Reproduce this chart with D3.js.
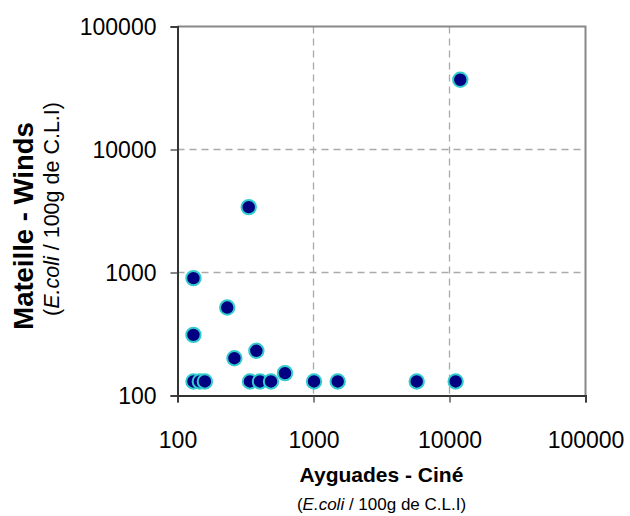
<!DOCTYPE html>
<html>
<head>
<meta charset="utf-8">
<script src="https://cdn.jsdelivr.net/npm/d3@7"></script>
<style>
  body { margin: 0; background: #fff; }
  text { font-family: "Liberation Sans", Arial, sans-serif; fill: #000; }
</style>
</head>
<body>
<svg id="chart"></svg>
<script>
// Data (E.coli / 100g)
const ayguades = [131, 232, 131, 262, 380, 131, 146, 159, 341, 404, 487, 617, 1009, 1507, 5740, 11100, 12000, 334];
const mateille = [900, 519, 311, 201, 231, 130, 130, 130, 130, 130, 130, 152, 130, 130, 130, 130, 36900, 3400];
const tickValues = [100, 1000, 10000, 100000];

const W = 630, H = 516;
const margin = { top: 26.5, right: 44.5, bottom: 120.5, left: 177.5 };
const width = W - margin.left - margin.right;
const height = H - margin.top - margin.bottom;

const svg = d3.select("#chart")
    .attr("width", W)
    .attr("height", H);

const g = svg.append("g")
    .attr("transform", `translate(${margin.left},${margin.top})`);

const x = d3.scaleLog().domain([100, 100000]).range([0, width]);
const y = d3.scaleLog().domain([100, 100000]).range([height, 0]);

// dashed grid at inner decades
const inner = tickValues.slice(1, -1);
g.selectAll(".gx").data(inner).enter().append("line")
    .attr("x1", d => x(d)).attr("x2", d => x(d))
    .attr("y1", 0).attr("y2", height)
    .attr("stroke", "#aaa").attr("stroke-width", 1.3)
    .attr("stroke-dasharray", "7,5");
g.selectAll(".gy").data(inner).enter().append("line")
    .attr("y1", d => y(d)).attr("y2", d => y(d))
    .attr("x1", 0).attr("x2", width)
    .attr("stroke", "#aaa").attr("stroke-width", 1.3)
    .attr("stroke-dasharray", "7,5");

// top / right border
g.append("path")
    .attr("d", `M0,0H${width}V${height}`)
    .attr("fill", "none")
    .attr("stroke", "#888")
    .attr("stroke-width", 2);

// axes
const xAxis = g.append("g")
    .attr("transform", `translate(0,${height})`)
    .call(d3.axisBottom(x).tickValues(tickValues).tickFormat(d3.format("d")).tickSize(7).tickPadding(29));
const yAxis = g.append("g")
    .call(d3.axisLeft(y).tickValues(tickValues).tickFormat(d3.format("d")).tickSize(7).tickPadding(14));

[xAxis, yAxis].forEach(a => {
    a.select(".domain").attr("stroke", "#333").attr("stroke-width", 2);
    a.selectAll(".tick line").attr("stroke", "#444").attr("stroke-width", 1.3);
    a.selectAll(".tick text")
        .style("font-family", "'Liberation Sans', Arial, sans-serif")
        .style("font-size", "23px")
        .attr("fill", "#000");
});
yAxis.selectAll(".tick text").attr("dy", "0.36em");

// points
g.selectAll(".pt")
    .data(ayguades.map((v, i) => [v, mateille[i]]))
    .enter().append("circle")
    .attr("class", "pt")
    .attr("cx", d => x(d[0]))
    .attr("cy", d => y(d[1]))
    .attr("r", 7.2)
    .attr("fill", "#000080")
    .attr("stroke", "#33cccc")
    .attr("stroke-width", 2);

// x-axis titles
svg.append("text")
    .attr("x", margin.left + width / 2)
    .attr("y", 482)
    .attr("text-anchor", "middle")
    .style("font-size", "21px")
    .style("font-weight", "bold")
    .text("Ayguades - Ciné");

const xs = svg.append("text")
    .attr("x", margin.left + width / 2)
    .attr("y", 510)
    .attr("text-anchor", "middle")
    .style("font-size", "17px");
xs.append("tspan").text("(");
xs.append("tspan").style("font-style", "italic").text("E.coli");
xs.append("tspan").text(" / 100g de C.L.I)");

// y-axis titles
svg.append("text")
    .attr("transform", "translate(33,226) rotate(-90)")
    .attr("text-anchor", "middle")
    .style("font-size", "27.5px")
    .style("font-weight", "bold")
    .text("Mateille - Winds");

const ys = svg.append("text")
    .attr("transform", "translate(59,209) rotate(-90)")
    .attr("text-anchor", "middle")
    .style("font-size", "21.5px");
ys.append("tspan").text("(");
ys.append("tspan").style("font-style", "italic").text("E.coli");
ys.append("tspan").text(" / 100g de C.L.I)");
</script>
</body>
</html>
